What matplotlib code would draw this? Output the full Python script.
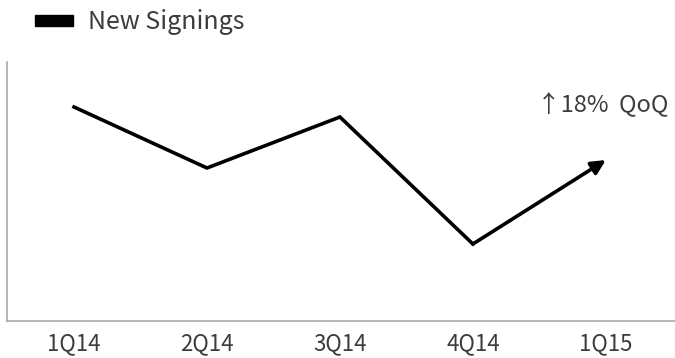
import matplotlib
matplotlib.use("Agg")
import matplotlib.pyplot as plt
from matplotlib.patches import Rectangle

categories = ["1Q14", "2Q14", "3Q14", "4Q14", "1Q15"]
new_signings = [214, 153, 204, 77, 161]
series_label = "New Signings"
annotation = "↑18%  QoQ"

plt.rcParams['font.family'] = ['Noto Sans CJK KR', 'DejaVu Sans']
text_color = "#3c3c3c"

fig = plt.figure(figsize=(6.75, 3.58), dpi=100)
ax = fig.add_axes([7/675, 37/358, 668/675, 259/358])
x = list(range(len(categories)))
ax.plot(x[:4], new_signings[:4], color="black", lw=2.6, solid_joinstyle="miter")
ax.annotate("", xy=(x[4], new_signings[4]), xytext=(x[3], new_signings[3]),
            arrowprops=dict(arrowstyle="-|>,head_length=0.85,head_width=0.42", color="black", lw=2.6,
                            shrinkA=0, shrinkB=0))
ax.set_xlim(-0.504, 4.52)
ax.set_ylim(0, 259)
ax.set_xticks(x)
ax.set_xticklabels(categories, fontsize=16, color=text_color, fontweight="medium")
ax.tick_params(axis='x', length=0, pad=8)
ax.set_yticks([])
for s in ["top", "right"]:
    ax.spines[s].set_visible(False)
for s in ["left", "bottom"]:
    ax.spines[s].set_color("#aaaaaa")
    ax.spines[s].set_linewidth(1.2)

ax.text(4.47, 216, annotation, ha="right", va="center", fontsize=17, color=text_color,
        fontweight="medium")

fig.patches.append(Rectangle((35/675, 1 - 26/358), 38/675, 11/358, transform=fig.transFigure,
                             color="black"))
fig.text(88/675, 1 - 22/358, series_label, ha="left", va="center", fontsize=18, color=text_color,
         fontweight="medium")

fig.savefig("out.png", dpi=100)
